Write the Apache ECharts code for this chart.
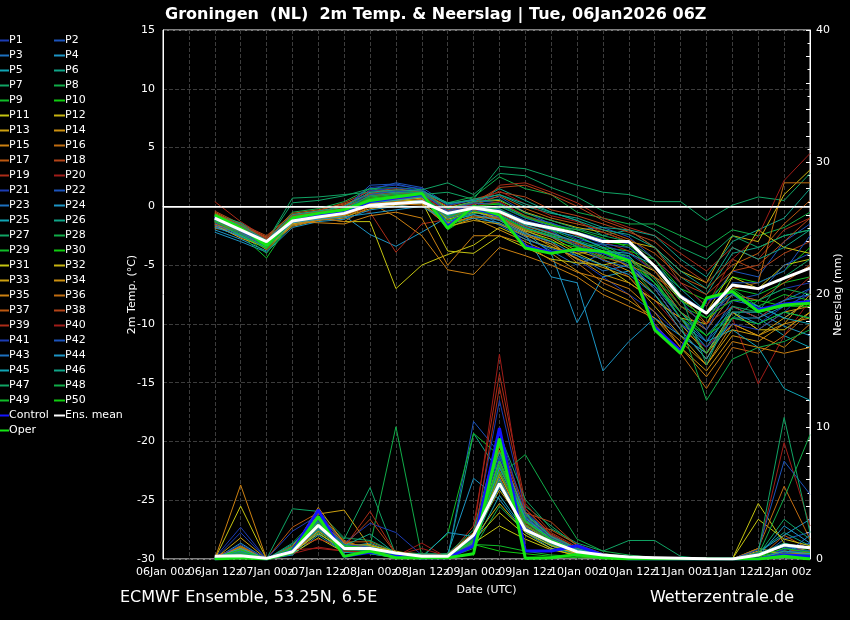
<!DOCTYPE html>
<html>
<head>
<meta charset="utf-8">
<script src="https://cdn.jsdelivr.net/npm/echarts/dist/echarts.min.js"></script>
<style>
html, body { margin: 0; padding: 0; background: #000; overflow: hidden; }
#chart { width: 850px; height: 620px; }
</style>
</head>
<body>
<div id="chart"></div>
<script>
// time axis, every 6 hours
var categories = ['06Jan 00z', '06Jan 06z', '06Jan 12z', '06Jan 18z', '07Jan 00z', '07Jan 06z', '07Jan 12z', '07Jan 18z',
    '08Jan 00z', '08Jan 06z', '08Jan 12z', '08Jan 18z', '09Jan 00z', '09Jan 06z', '09Jan 12z', '09Jan 18z',
    '10Jan 00z', '10Jan 06z', '10Jan 12z', '10Jan 18z', '11Jan 00z', '11Jan 06z', '11Jan 12z', '11Jan 18z',
    '12Jan 00z', '12Jan 06z'];
var firstStep = 2; // data starts at 06Jan 12z

// 2m temperature (deg C), P1..P50
var memberTemp = [
    [-1.5,-2.4,-3.5,-1.0,-0.6,-0.2,1.6,1.8,1.5,-0.3,0.4,-0.8,-2.0,-3.2,-4.5,-6.0,-7.5,-9.0,-11.0,-12.5,-9.5,-10.0,-8.5,-7.5],
    [-1.2,-1.4,-2.7,-0.8,-0.5,0.0,1.4,2.0,1.6,0.2,0.5,0.8,-0.5,-1.5,-2.0,-1.8,-2.6,-4.5,-6.5,-8.5,-5.5,-6.0,-3.0,-1.5],
    [-0.8,-2.1,-3.0,-1.4,-0.9,-0.7,0.3,0.5,0.8,-0.8,-0.3,-1.5,-2.6,-3.8,-5.0,-4.0,-4.8,-7.0,-10.0,-11.5,-8.0,-8.5,-9.5,-8.0],
    [-2.0,-2.8,-3.8,-1.6,-1.1,-0.8,-2.4,-3.4,-2.2,-0.9,-0.5,-1.0,-2.2,-4.0,-9.9,-6.0,-5.5,-6.8,-9.0,-10.5,-7.5,-9.0,-10.2,-11.0],
    [-1.3,-2.3,-3.2,-1.1,-0.7,-0.6,0.0,0.2,0.6,-1.2,-0.6,-0.3,-1.8,-2.5,-3.0,-3.8,-4.2,-6.5,-9.5,-12.0,-8.5,-9.5,-11.0,-12.0],
    [-0.9,-1.9,-3.3,-1.0,-0.6,-0.3,0.6,0.9,1.0,-0.2,0.2,1.5,0.5,-0.5,-1.2,-2.5,-2.0,-3.5,-6.0,-7.5,-4.0,-3.5,-2.5,-2.0],
    [-1.1,-1.5,-3.0,0.7,0.8,1.0,1.2,1.3,1.0,1.2,0.6,3.4,3.2,2.5,1.8,1.2,1.0,0.4,0.4,-1.2,0.1,0.8,0.5,2.8],
    [-0.7,-1.8,-2.9,-0.5,-0.2,0.4,1.5,1.2,1.3,0.3,0.8,2.5,1.5,1.0,-0.5,-1.0,-1.5,-1.5,-2.5,-3.5,-2.0,-2.5,-1.8,-0.5],
    [-1.0,-2.0,-3.4,-1.3,-0.9,-0.4,0.5,0.6,0.9,-1.5,-0.2,-0.5,-1.2,-2.0,-3.5,-3.2,-4.5,-6.0,-8.5,-10.0,-7.0,-7.5,-6.5,-6.0],
    [-1.2,-2.2,-3.1,-1.1,-0.6,-0.5,0.8,1.0,1.2,-0.5,0.3,0.2,-0.8,-1.5,-2.5,-3.5,-3.8,-4.5,-7.0,-8.0,-6.0,-6.5,-5.5,-3.5],
    [-1.4,-2.5,-3.6,-1.5,-1.0,-1.3,-1.3,-7.0,-5.0,-4.1,-3.3,-1.8,-2.8,-3.5,-4.0,-5.0,-6.5,-8.0,-9.5,-10.0,-6.0,-7.0,-5.0,-4.5],
    [-0.6,-1.7,-2.8,-0.9,-0.4,-0.1,0.9,1.1,1.2,-0.1,0.4,0.5,-0.5,-1.2,-1.8,-2.2,-3.0,-3.5,-5.5,-6.5,-2.5,-3.0,1.0,3.1],
    [-1.6,-2.6,-3.3,-1.3,-0.8,-0.6,0.4,0.7,0.8,-0.9,-0.4,-0.8,-1.9,-2.6,-3.8,-4.5,-5.5,-7.5,-10.5,-13.0,-9.0,-10.5,-9.0,-8.5],
    [-1.9,-2.0,-3.5,-1.7,-1.2,-1.0,0.1,0.2,0.4,-1.8,-1.0,-2.0,-3.0,-4.0,-5.5,-7.0,-8.0,-9.5,-12.0,-14.0,-11.0,-11.5,-10.0,-9.5],
    [-1.8,-2.2,-3.7,-1.6,-1.2,-0.7,0.3,-0.9,-2.5,-5.4,-5.8,-3.5,-4.2,-5.0,-6.0,-7.5,-8.5,-9.5,-11.5,-13.5,-10.0,-11.0,-12.0,-10.0],
    [-1.5,-2.4,-3.2,-1.2,-0.9,-0.8,0.0,0.4,0.6,-1.0,-0.3,-1.2,-2.4,-3.0,-4.8,-6.5,-7.5,-10.0,-12.5,-15.5,-12.0,-12.5,-11.0,-9.0],
    [-0.5,-1.6,-2.6,-0.6,-0.3,0.2,1.0,1.2,1.1,-0.4,0.1,0.9,-0.2,-1.0,-1.5,-2.0,-2.8,-4.0,-6.0,-7.0,-5.0,-4.0,-1.5,0.5],
    [-0.4,-1.5,-2.5,-0.7,-0.4,0.3,1.3,1.5,1.2,0.0,0.6,1.2,0.8,-0.3,-0.8,-1.5,-2.2,-3.0,-5.0,-6.5,-4.5,-5.5,-4.0,-3.0],
    [0.4,-1.3,-2.7,-0.9,-0.6,-0.2,-0.5,-3.9,-1.5,-1.1,-0.5,1.8,2.0,1.2,0.3,-1.0,-1.8,-2.5,-4.0,-5.5,-3.5,-4.5,-2.0,-1.0],
    [-0.8,-2.0,-3.0,-1.1,-0.7,-0.5,0.2,0.5,0.7,-0.7,-0.2,-0.6,-1.6,-2.2,-3.3,-4.5,-6.0,-8.0,-10.5,-12.0,-9.5,-15.1,-11.0,-8.0],
    [-1.3,-2.2,-3.3,-1.2,-0.8,-0.4,0.7,0.9,1.0,-0.6,0.0,-0.2,-1.2,-1.8,-2.8,-3.3,-4.0,-5.5,-8.0,-9.5,-7.5,-8.0,-7.0,-6.5],
    [-1.0,-1.8,-2.9,-0.9,-0.5,-0.2,1.8,1.9,1.4,0.1,0.5,0.3,-0.9,-1.4,-2.2,-2.8,-3.2,-5.0,-7.5,-9.0,-8.0,-7.5,-5.0,-4.0],
    [-1.7,-2.6,-3.4,-1.4,-1.0,-0.7,0.1,0.3,0.5,-1.3,-0.7,-1.6,-2.8,-3.6,-4.2,-5.5,-5.0,-6.5,-9.0,-11.0,-8.5,-9.5,-8.0,-7.0],
    [-2.2,-3.0,-3.9,-1.8,-1.3,-1.1,-0.3,0.0,0.3,-1.5,-1.0,-1.4,-2.4,-6.0,-6.5,-14.0,-11.5,-9.5,-11.0,-12.5,-9.0,-10.0,-9.0,-9.5],
    [-1.1,-2.1,-3.1,-1.0,-0.7,-0.5,0.4,0.6,0.8,-0.7,-0.1,-0.4,-1.5,-2.0,-2.6,-3.5,-4.5,-6.0,-9.0,-11.5,-10.5,-12.0,-15.5,-16.5],
    [-0.9,-1.7,-2.8,-0.8,-0.5,-0.1,1.1,1.2,1.2,0.2,0.6,1.0,0.0,-0.6,-1.0,-1.8,-2.0,-2.5,-4.5,-6.0,-3.0,-2.0,-1.0,1.5],
    [-0.7,-1.4,-3.0,0.3,0.5,0.9,1.5,1.6,1.4,2.0,1.0,2.8,2.6,1.6,0.8,-0.4,-1.0,-2.0,-3.5,-4.5,-2.5,-3.5,-2.5,-2.0],
    [-1.2,-2.3,-4.0,-1.2,-0.8,-0.3,0.8,1.0,1.1,-0.8,0.1,-0.3,-1.6,-2.4,-3.0,-4.2,-5.0,-7.5,-10.0,-16.5,-13.0,-12.0,-11.5,-10.5],
    [-1.0,-2.4,-4.4,-1.1,-0.6,-0.3,0.6,0.8,0.9,-2.0,-0.6,0.0,-1.0,-1.6,-2.0,-2.7,-3.5,-5.5,-8.5,-9.5,-7.0,-8.5,-7.5,-8.0],
    [-1.3,-2.5,-3.6,-1.2,-0.9,-0.4,0.5,0.7,0.9,-1.0,-0.2,-0.7,-2.0,-3.0,-3.5,-4.0,-4.8,-6.5,-9.5,-11.0,-9.0,-9.0,-8.5,-8.5],
    [-0.9,-1.9,-3.0,-1.0,-0.6,-0.4,0.5,0.6,0.4,-3.8,-4.0,-2.5,-3.5,-4.5,-4.8,-5.0,-4.5,-5.5,-8.0,-9.0,-5.5,-2.0,-3.5,-4.0],
    [-1.4,-2.3,-3.2,-1.3,-0.8,-0.6,0.3,0.5,0.7,-1.1,-0.5,-0.9,-2.1,-2.8,-4.0,-3.8,-5.2,-7.0,-10.0,-12.5,-9.0,-10.5,-10.5,-9.0],
    [-1.6,-2.7,-3.5,-1.5,-1.1,-0.9,-0.2,0.1,0.2,-1.7,-1.2,-1.5,-2.5,-3.2,-4.5,-5.2,-6.0,-8.5,-11.0,-13.5,-10.5,-11.0,-9.5,-8.0],
    [-1.2,-2.0,-3.4,-1.4,-1.0,-0.8,0.2,0.4,0.3,-1.4,-0.9,-1.1,-2.2,-3.4,-4.4,-5.8,-6.5,-8.0,-9.5,-12.5,-10.0,-11.0,-10.0,-7.5],
    [-1.7,-1.8,-3.2,-1.3,-1.4,-1.5,-0.8,-0.5,-1.0,-5.0,-2.5,-2.5,-3.2,-4.6,-5.6,-6.2,-7.0,-9.0,-12.0,-14.5,-11.5,-12.0,-12.5,-12.0],
    [-1.5,-2.1,-3.3,-1.1,-1.0,-1.3,0.0,0.2,0.1,-1.6,-0.8,-1.0,-2.0,-2.6,-3.2,-4.3,-5.0,-6.0,-7.5,-10.0,-7.0,-6.5,2.0,2.0],
    [-1.3,-2.2,-3.0,-1.2,-0.9,-0.6,0.4,0.6,0.8,-0.9,-0.3,-0.6,-1.7,-2.3,-3.1,-4.0,-4.5,-6.0,-9.0,-10.5,-7.5,-8.0,-6.5,-5.0],
    [-0.6,-1.6,-2.7,-0.8,-0.5,0.1,1.1,1.4,1.3,-0.3,0.3,1.6,1.8,1.0,0.0,-1.2,-2.0,-3.5,-6.5,-7.5,-5.5,-5.0,-3.0,-1.0],
    [-0.7,-1.7,-2.8,-0.9,-0.6,-0.1,0.9,1.1,1.0,-0.6,0.0,0.4,-0.8,-1.6,-2.5,-3.0,-3.8,-5.5,-8.5,-10.0,-8.5,-9.5,-8.0,-6.0],
    [-0.9,-1.9,-3.1,-1.0,-0.7,-0.3,0.7,0.9,0.9,-0.4,0.2,1.3,0.2,-0.8,-1.3,-2.2,-3.0,-4.5,-6.5,-8.5,-4.5,-2.5,2.2,4.5],
    [-1.4,-2.3,-3.4,-1.3,-0.8,-0.5,1.3,1.6,1.3,-0.5,0.1,-0.3,-1.3,-2.1,-3.3,-4.0,-5.0,-7.0,-10.0,-12.0,-10.0,-10.5,-9.0,-7.0],
    [-1.2,-2.1,-3.2,-1.1,-0.8,-0.4,1.0,1.3,1.1,-0.4,0.3,0.1,-1.0,-1.7,-2.4,-3.2,-3.5,-5.0,-8.0,-10.5,-6.5,-6.5,-5.5,-2.5],
    [-1.6,-2.4,-3.3,-1.2,-0.9,-0.6,0.5,0.7,0.9,-1.0,-0.4,-0.7,-1.8,-2.6,-3.4,-4.6,-5.2,-6.8,-9.5,-11.5,-9.0,-9.0,-8.0,-7.5],
    [-1.8,-2.5,-3.5,-1.4,-1.1,-0.9,-0.6,-0.3,0.0,-1.3,-0.7,-1.2,-2.3,-3.0,-4.2,-5.0,-5.8,-7.5,-10.5,-13.0,-9.5,-9.5,-8.5,-8.0],
    [-1.1,-1.9,-3.0,-1.0,-0.7,-0.5,0.3,0.5,0.8,-0.8,-0.2,-0.5,-1.6,-2.3,-3.0,-3.8,-4.0,-5.0,-7.0,-9.0,-7.5,-8.5,-9.5,-10.0],
    [-0.8,-1.6,-2.9,-0.7,-0.4,0.0,1.2,1.4,1.3,0.3,0.5,1.0,0.2,-0.5,-1.2,-2.0,-2.4,-3.5,-5.5,-7.0,-3.5,-4.5,-3.5,-2.0],
    [-1.0,-1.8,-3.1,-0.9,-0.6,-0.2,0.9,1.1,1.2,-0.2,0.4,0.6,-0.6,-1.2,-1.9,-2.5,-3.0,-4.5,-7.5,-13.5,-8.5,-9.0,-6.0,-4.5],
    [-1.2,-2.2,-3.3,-1.1,-0.7,-0.4,0.6,0.8,1.0,-0.9,-0.1,-0.2,-1.4,-2.0,-2.9,-3.6,-4.3,-6.2,-9.5,-12.5,-9.5,-8.0,-7.0,-7.5],
    [-1.3,-2.4,-3.6,-1.2,-0.8,-0.5,0.4,0.7,0.9,-1.6,-0.4,-0.8,-1.9,-2.5,-3.4,-4.4,-4.5,-6.5,-9.0,-11.0,-9.5,-10.0,-9.0,-9.5],
    [-1.1,-2.0,-3.5,-1.0,-0.6,-0.3,0.7,0.9,1.1,-1.3,0.0,0.2,-0.9,-1.6,-2.2,-3.0,-3.3,-5.0,-8.0,-9.5,-8.0,-8.0,-8.5,-8.0]
];
var controlTemp = [-0.9,-2.0,-3.2,-1.1,-0.7,-0.4,0.4,0.7,1.0,-1.7,-0.1,-0.8,-3.4,-3.9,-3.7,-3.9,-4.5,-10.3,-12.3,-7.9,-7.3,-8.8,-8.3,-8.1];
var operTemp = [-0.75,-1.85,-3.3,-1.0,-0.6,-0.3,0.5,0.8,1.1,-1.85,0.0,-0.75,-3.55,-4.0,-3.65,-3.85,-4.6,-10.5,-12.5,-7.8,-7.25,-8.95,-8.4,-8.25];
var meanTemp = [-1.0,-2.0,-3.0,-1.25,-0.9,-0.6,0.1,0.25,0.4,-0.6,-0.15,-0.45,-1.4,-1.85,-2.3,-3.0,-3.0,-5.1,-7.7,-9.1,-6.7,-7.0,-6.1,-5.25];

// precipitation (mm per 6h), P1..P50
var memberPrecip = [
    [0.1,2.4,0,0.6,2.8,1.0,0.5,0.2,0.1,0.3,1.2,7.5,2.5,1.5,0.6,0.2,0.1,0,0,0,0,0,0.5,1.0],
    [0,0.3,0,0.8,3.0,1.2,0.8,0.3,0.2,0.1,10.4,8.0,3.0,1.0,0.3,0.1,0,0,0,0,0,0,1.5,2.0],
    [0.2,0.5,0,0.5,2.4,0.7,0.6,0.2,0,0.2,1.0,6.0,2.2,1.2,0.5,0.2,0.1,0,0,0,0,0,0.2,0.3],
    [0,1.2,0,0.3,1.8,0.5,0.9,0.1,0.1,0.4,6.1,4.5,2.0,0.8,0.4,0.1,0,0,0,0,0,0,0.8,0.6],
    [0.1,0.6,0,0.4,2.2,0.9,1.2,0.4,0.2,0.2,1.5,7.0,3.5,1.8,0.8,0.3,0.2,0.1,0,0,0,0.3,1.0,0.5],
    [0,0.4,0,0.7,2.6,0.6,0.5,0.2,0.1,0.1,9.5,6.5,2.8,1.4,0.6,0.2,0,0,0,0,0,0.5,2.0,1.0],
    [0.1,0.3,0,1.2,3.2,1.5,5.4,0.3,0.1,0.3,1.3,5.5,4.0,2.5,1.0,0.4,0.2,0,0,0,0,0,0.3,0.2],
    [0,0.2,0,0.9,2.5,0.8,1.0,10.0,0.2,0.1,0.8,4.0,2.0,1.0,0.3,0.2,0,0,0,0,0,0,0.1,0],
    [0,0.5,0,0.6,2.9,1.1,0.7,0.4,0.2,1.9,9.5,7.8,3.2,1.6,0.7,0.3,0.1,0,0,0,0,0.2,0.5,0.8],
    [0.1,0.3,0,0.5,2.0,0.6,0.4,0.1,0,0.2,1.1,0.6,0.4,0.2,0.1,0.1,0,0,0,0,0,0,0.2,0.1],
    [0,4.0,0,0.4,1.6,0.5,0.8,0.2,0.1,0.2,1.4,3.5,1.8,0.8,0.2,0.1,0,0,0,0,0,4.2,1.2,0.5],
    [0.1,0.8,0,0.8,2.3,0.9,0.6,0.3,0.2,0.3,1.8,5.2,2.6,1.3,0.5,0.2,0,0,0,0,0,0.8,0.4,0.2],
    [0,1.6,0,0.7,3.4,3.7,0.9,0.2,0.1,0.2,1.6,6.2,2.2,1.1,0.4,0.1,0,0,0,0,0,0,0.6,0.4],
    [0.1,0.9,0,0.6,2.7,1.0,1.1,0.4,0.3,0.3,1.3,7.2,2.9,1.4,0.6,0.2,0.1,0,0,0,0,0,0.3,0.5],
    [0,5.6,0,1.0,3.1,1.4,0.7,0.3,0.1,0.4,2.0,8.2,3.4,1.7,0.7,0.3,0.1,0,0,0,0,0,0.4,0.2],
    [0.2,0.7,0,0.5,2.1,0.8,0.6,0.2,0.1,0.2,1.2,6.5,2.3,1.2,0.5,0.2,0,0,0,0.1,0,0,0.2,0.3],
    [0,0.4,0,2.4,3.5,1.3,1.3,0.5,0.4,0.2,1.7,5.8,2.7,2.2,1.1,0.4,0.1,0,0,0,0,0,1.8,0.7],
    [0.1,0.6,0,0.9,2.6,1.1,0.8,0.3,0.2,0.3,1.4,9.0,3.8,1.9,0.8,0.3,0.1,0,0,0,0,0,0.5,0.9],
    [0,0.5,0,0.8,1.5,0.9,3.6,0.4,0.3,0.2,2.5,14.0,4.2,2.0,0.9,0.3,0.1,0,0,0,0,0,0.3,0.2],
    [0.1,0.3,0,0.4,0.9,0.6,0.5,0.2,1.2,0.1,1.9,15.5,3.0,1.5,0.6,0.2,0,0,0,0,0,0,0.4,0.3],
    [0,2.0,0,2.1,3.3,1.2,2.7,2.0,0.3,0.3,1.5,12.0,3.6,1.8,0.7,0.3,0.1,0,0,0,0,0,0.8,0.6],
    [0.1,0.4,0,0.7,2.8,1.0,0.9,0.4,0.2,0.2,1.3,7.6,2.4,1.2,0.5,0.2,0,0,0,0,0,0,0.7,1.2],
    [0,0.5,0,0.6,2.5,0.7,0.6,0.3,0.1,0.3,1.6,6.6,3.1,1.6,0.6,0.2,0.1,0,0,0,0,0.4,0.9,0.8],
    [0.1,0.7,0,0.5,2.2,0.8,0.7,0.2,0.1,2.0,1.7,5.4,2.6,1.3,0.5,0.1,0,0,0,0,0,0.5,1.8,3.0],
    [0,0.3,0,0.4,2.0,0.5,0.4,0.1,0,0.2,1.0,4.8,2.1,1.0,0.4,0.1,0,0,0,0,0,0,0.2,0.4],
    [0.1,0.5,0,1.1,3.0,1.1,1.0,0.3,0.2,0.3,1.4,6.9,3.3,1.7,0.7,0.3,0.1,0.1,0,0,0,0,0.6,0.3],
    [0,0.3,0,3.8,3.6,1.6,1.4,0.5,0.4,0.4,2.2,9.5,4.5,2.3,1.2,0.6,1.4,1.4,0.2,0,0,0.3,3.0,1.5],
    [0.1,0.6,0,0.8,2.7,0.9,0.8,0.3,0.2,0.2,1.4,6.3,7.9,4.6,1.5,0.6,0.3,0.1,0,0,0,0,0.4,0.3],
    [0,0.4,0,0.6,2.3,0.7,0.5,0.2,0.1,0.2,1.1,1.0,0.6,0.3,0.2,0.1,0,0,0,0,0,0,0.3,0.2],
    [0.1,0.5,0,0.7,2.5,0.9,0.7,0.3,0.2,0.3,1.3,7.0,2.8,1.4,0.6,0.2,0.1,0,0,0,0,0.2,0.5,0.6],
    [0,0.8,0,0.5,1.9,0.8,1.0,0.6,0.2,0.2,1.2,2.5,1.5,0.7,0.3,0.1,0,0,0,0,0,3.0,1.5,1.0],
    [0.1,0.6,0,0.6,2.4,1.0,0.8,0.3,0.1,0.3,1.5,4.2,2.0,1.0,0.4,0.1,0,0,0,0,0,0.6,0.4,0.3],
    [0,1.0,0,0.5,2.1,0.8,0.6,0.2,0.1,0.2,1.2,6.0,2.4,1.1,0.4,0.1,0,0,0,0,0,0,0.2,0.2],
    [0.1,0.7,0,0.7,3.9,1.2,0.9,0.4,0.2,0.3,1.6,7.4,2.9,1.5,0.6,0.2,0.1,0,0,0,0,0,0.3,0.4],
    [0,0.5,0,0.6,2.6,0.9,0.7,0.3,0.2,0.2,1.3,6.4,2.5,1.3,0.5,0.2,0,0,0,0,0,0,0.5,0.3],
    [0.2,0.9,0,0.8,2.9,1.3,0.8,0.4,0.3,0.3,1.8,8.5,3.2,1.6,0.7,0.3,0.1,0,0,0,0,0.8,5.5,1.5],
    [0,0.6,0,0.6,2.4,0.8,0.7,0.2,0.1,0.2,1.4,6.7,2.6,1.3,0.5,0.2,0,0,0,0,0,0,0.4,0.2],
    [0.1,0.4,0,0.9,2.7,1.0,3.0,0.4,0.2,0.3,1.6,8.8,3.5,2.8,1.0,0.3,0.1,0,0,0,0,0,0.6,0.5],
    [0,0.3,0,0.5,2.2,0.7,0.6,0.2,0.1,0.2,1.2,13.0,3.8,1.8,0.6,0.2,0,0,0,0,0,0,0.4,0.3],
    [0.1,0.5,0,0.7,0.8,0.6,0.5,0.3,0.8,0.2,1.4,7.2,2.7,1.4,0.6,0.2,0.1,0,0,0,0,0.5,8.8,2.5],
    [0,1.1,0,0.6,2.5,0.9,0.8,0.3,0.2,0.3,1.5,9.8,3.2,1.6,0.7,0.3,0.1,0,0,0,0,0,0.5,0.6],
    [0.1,0.6,0,0.8,2.9,1.1,0.9,0.4,0.2,0.2,1.6,7.8,3.0,1.5,0.6,0.2,0,0,0,0,0,0.7,7.4,4.9],
    [0,0.4,0,0.5,2.3,0.8,0.6,0.2,0.1,0.3,1.2,6.1,2.4,1.2,0.5,0.2,0,0,0,0,0,0,0.3,1.8],
    [0.1,0.8,0,0.6,2.6,1.0,0.7,0.3,0.2,0.2,1.3,6.9,2.9,1.4,0.6,0.2,0.1,0,0,0,0,0.2,2.5,1.2],
    [0,0.5,0,0.7,2.4,0.9,0.8,0.3,0.1,0.2,1.4,7.3,3.1,1.5,0.7,0.3,0.1,0,0,0,0,0,0.6,0.4],
    [0.1,0.6,0,0.9,2.8,1.0,1.9,0.4,0.3,0.3,1.7,8.1,3.4,1.7,0.8,0.3,0.1,0,0,0,0,0.4,1.2,0.8],
    [0,0.3,0,0.6,2.2,0.7,0.6,0.2,0.1,0.2,1.1,5.9,2.3,1.1,0.5,0.2,0,0,0,0,0,0.5,10.7,2.0],
    [0.1,0.5,0,0.8,2.7,1.0,0.8,0.3,0.2,0.3,1.5,7.1,2.8,1.4,0.6,0.2,0.1,0,0,0,0,0.3,4.6,9.4],
    [0,0.4,0,0.7,2.5,0.9,0.7,0.3,0.1,0.2,1.3,6.6,2.6,1.3,0.5,0.2,0,0,0,0,0,0,0.4,0.3],
    [0.1,0.7,0,0.8,2.6,1.0,0.8,0.3,0.2,0.3,1.4,7.4,2.9,1.5,0.6,0.2,0.1,0,0,0,0,0.2,0.8,0.5]
];
var controlPrecip = [0,0.2,0,0.6,3.7,0.2,0.5,0.2,0.1,0.1,1.0,9.9,0.6,0.6,1.0,0.3,0,0,0,0,0,0,0.3,0.2];
var operPrecip = [0,0.1,0,0.5,3.2,0.2,0.6,0.1,0.1,0.1,0.4,9.1,0.05,0.1,0.35,0.1,0,0,0,0,0,0,0.2,0];
var meanPrecip = [0.2,0.25,0.05,0.55,2.55,0.8,0.8,0.45,0.2,0.2,1.8,5.7,2.2,1.3,0.55,0.3,0.15,0.1,0.05,0.02,0,0.3,1.05,0.85];

var memberColors = ['#1c3cb4', '#1c54bc', '#1c70c0', '#1c94c4', '#10a4b4', '#10a488', '#10a464', '#10ac48', '#10bc28', '#10cc10',
    '#c4c410', '#c8b410', '#cca010', '#cc9010', '#cc8010', '#c06c10', '#bc5810', '#b44418', '#ac2c18', '#a01c18'];

var font = 'DejaVu Sans';

function pad(arr) {
    var out = [];
    for (var i = 0; i < firstStep; i++) out.push(null);
    return out.concat(arr);
}

function makeLine(name, data, axis, color, width) {
    return {
        name: name,
        type: 'line',
        yAxisIndex: axis,
        data: pad(data),
        symbol: 'none',
        silent: true,
        lineStyle: { color: color, width: width },
        itemStyle: { color: color }
    };
}

var series = [];
var legendLeft = [], legendRight = [];
for (var i = 0; i < memberTemp.length; i++) {
    var name = 'P' + (i + 1);
    var col = memberColors[i % 20];
    series.push(makeLine(name, memberTemp[i], 0, col, 1));
    series.push(makeLine(name, memberPrecip[i], 1, col, 1));
    if (i % 2 === 0) legendLeft.push(name); else legendRight.push(name);
}
series[0].markLine = {
    silent: true,
    symbol: 'none',
    label: { show: false },
    lineStyle: { color: '#ffffff', type: 'solid', width: 1.5 },
    data: [{ yAxis: 0 }]
};
series.push(makeLine('Control', controlTemp, 0, '#1414ff', 3));
series.push(makeLine('Control', controlPrecip, 1, '#1414ff', 3));
series.push(makeLine('Oper', operTemp, 0, '#14e614', 3));
series.push(makeLine('Oper', operPrecip, 1, '#14e614', 3));
series.push(makeLine('Ens. mean', meanTemp, 0, '#ffffff', 3));
series.push(makeLine('Ens. mean', meanPrecip, 1, '#ffffff', 3));
legendLeft.push('Control', 'Oper');
legendRight.push('Ens. mean');

function legendAt(left, data) {
    return {
        orient: 'vertical',
        left: left,
        top: 34,
        data: data,
        icon: 'rect',
        itemWidth: 11,
        itemHeight: 2,
        itemGap: 2,
        padding: 0,
        selectedMode: false,
        textStyle: { color: '#ffffff', fontSize: 11, fontFamily: font, lineHeight: 13, padding: [0, 0, 0, -5] }
    };
}

var gridColor = '#3c3c3c';
var ec = echarts.init(document.getElementById('chart'));
ec.setOption({
    backgroundColor: '#000000',
    animation: false,
    title: {
        text: 'Groningen  (NL)  2m Temp. & Neerslag | Tue, 06Jan2026 06Z',
        left: 160,
        top: 2,
        textStyle: { color: '#ffffff', fontSize: 16, fontWeight: 'bold', fontFamily: font }
    },
    legend: [legendAt(-2, legendLeft), legendAt(54, legendRight)],
    grid: {
        left: 163, right: 40, top: 30, bottom: 61,
        outerBoundsMode: 'none',
        containLabel: false,
        show: true, borderColor: '#ffffff', borderWidth: 1
    },
    xAxis: {
        type: 'category',
        data: categories,
        boundaryGap: false,
        name: 'Date (UTC)',
        nameLocation: 'middle',
        nameGap: 26,
        nameTextStyle: { color: '#ffffff', fontSize: 11, fontFamily: font },
        axisLine: { lineStyle: { color: '#ffffff' } },
        axisTick: { show: false },
        axisLabel: {
            interval: 0,
            showMinLabel: true, showMaxLabel: false, hideOverlap: false,
            color: '#ffffff', fontSize: 11, fontFamily: font, margin: 8,
            formatter: function(v, idx) { return idx % 2 === 0 ? v : ''; }
        },
        splitLine: { show: true, interval: 0, lineStyle: { color: gridColor, type: 'dashed' } }
    },
    yAxis: [{
        type: 'value',
        min: -30, max: 15, interval: 5,
        name: '2m Temp. (°C)',
        nameLocation: 'middle',
        nameGap: 25,
        nameMoveOverlap: false,
        nameTextStyle: { color: '#ffffff', fontSize: 11, fontFamily: font },
        axisLine: { show: true, lineStyle: { color: '#ffffff' } },
        axisTick: { show: false },
        axisLabel: { color: '#ffffff', fontSize: 11, fontFamily: font, margin: 8 },
        splitLine: { show: true, lineStyle: { color: gridColor, type: 'dashed' } }
    }, {
        type: 'value',
        min: 0, max: 40, interval: 2,
        name: 'Neerslag (mm)',
        nameLocation: 'middle',
        nameGap: 23,
        nameMoveOverlap: false,
        nameTextStyle: { color: '#ffffff', fontSize: 11, fontFamily: font },
        axisLine: { show: true, lineStyle: { color: '#ffffff' } },
        axisTick: { show: true, inside: true, length: 4, lineStyle: { color: '#ffffff' } },
        minorTick: { show: true, splitNumber: 2, length: 2.5, lineStyle: { color: '#ffffff' } },
        axisLabel: {
            color: '#ffffff', fontSize: 11, fontFamily: font, margin: 6,
            formatter: function(v) { return v % 10 === 0 ? String(v) : ''; }
        },
        splitLine: { show: false }
    }],
    graphic: [{
        type: 'text', left: 120, top: 590,
        style: { text: 'ECMWF Ensemble, 53.25N, 6.5E', fill: '#ffffff', fontSize: 16, fontFamily: font }
    }, {
        type: 'text', right: 56, top: 590,
        style: { text: 'Wetterzentrale.de', fill: '#ffffff', fontSize: 16, fontFamily: font }
    }],
    series: series
});
</script>
</body>
</html>
